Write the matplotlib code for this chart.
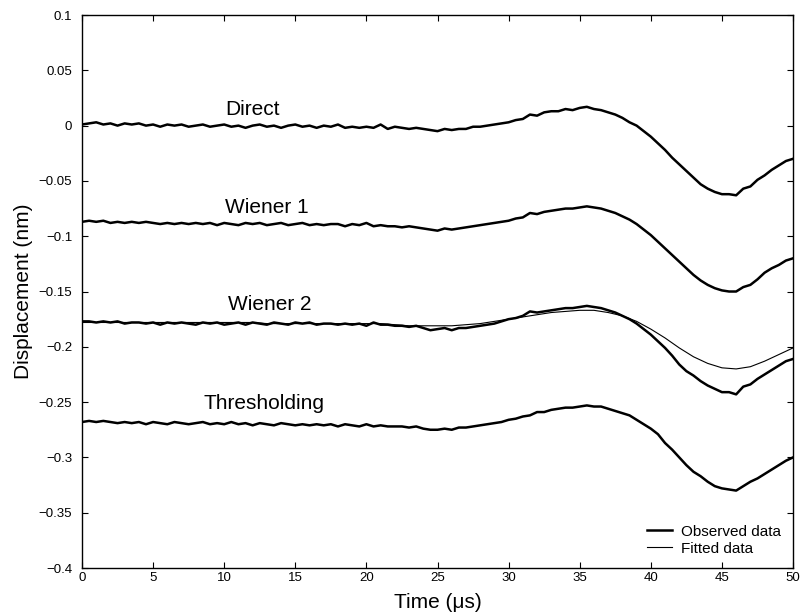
import matplotlib
matplotlib.use("Agg")
import matplotlib.pyplot as plt
import numpy as np

plt.rcParams['font.family'] = ['Liberation Sans', 'DejaVu Sans']

# time axis (microseconds), sampled every 0.5 us for observed traces
t_obs = np.arange(0, 50.5, 0.5)
# fitted trace read every 1 us
t_fit = np.arange(0, 51, 1.0)

direct = [0.001, 0.002, 0.003, 0.001, 0.002, 0.000, 0.002, 0.001, 0.002, 0.000,
          0.001, -0.001, 0.001, 0.000, 0.001, -0.001, 0.000, 0.001, -0.001, 0.000,
          0.001, -0.001, 0.000, -0.002, 0.000, 0.001, -0.001, 0.000, -0.002, 0.000,
          0.001, -0.001, 0.000, -0.002, 0.000, -0.001, 0.001, -0.002, -0.001, -0.002,
          -0.001, -0.002, 0.001, -0.003, -0.001, -0.002, -0.003, -0.002, -0.003, -0.004,
          -0.005, -0.003, -0.004, -0.003, -0.003, -0.001, -0.001, 0.000, 0.001, 0.002,
          0.003, 0.005, 0.006, 0.010, 0.009, 0.012, 0.013, 0.013, 0.015, 0.014,
          0.016, 0.017, 0.015, 0.014, 0.012, 0.010, 0.007, 0.003, 0.000, -0.005,
          -0.010, -0.016, -0.022, -0.029, -0.035, -0.041, -0.047, -0.053, -0.057, -0.060,
          -0.062, -0.062, -0.063, -0.057, -0.055, -0.049, -0.045, -0.040, -0.036, -0.032,
          -0.030]

wiener1 = [-0.087, -0.086, -0.087, -0.086, -0.088, -0.087, -0.088, -0.087, -0.088, -0.087,
           -0.088, -0.089, -0.088, -0.089, -0.088, -0.089, -0.088, -0.089, -0.088, -0.090,
           -0.088, -0.089, -0.090, -0.088, -0.089, -0.088, -0.090, -0.089, -0.088, -0.090,
           -0.089, -0.088, -0.090, -0.089, -0.090, -0.089, -0.089, -0.091, -0.089, -0.090,
           -0.088, -0.091, -0.090, -0.091, -0.091, -0.092, -0.091, -0.092, -0.093, -0.094,
           -0.095, -0.093, -0.094, -0.093, -0.092, -0.091, -0.090, -0.089, -0.088, -0.087,
           -0.086, -0.084, -0.083, -0.079, -0.080, -0.078, -0.077, -0.076, -0.075, -0.075,
           -0.074, -0.073, -0.074, -0.075, -0.077, -0.079, -0.082, -0.085, -0.089, -0.094,
           -0.099, -0.105, -0.111, -0.117, -0.123, -0.129, -0.135, -0.140, -0.144, -0.147,
           -0.149, -0.150, -0.150, -0.146, -0.144, -0.139, -0.133, -0.129, -0.126, -0.122,
           -0.120]

wiener2 = [-0.177, -0.177, -0.178, -0.177, -0.178, -0.177, -0.179, -0.178, -0.178, -0.179,
           -0.178, -0.180, -0.178, -0.179, -0.178, -0.179, -0.180, -0.178, -0.179, -0.178,
           -0.180, -0.179, -0.178, -0.180, -0.178, -0.179, -0.180, -0.178, -0.179, -0.180,
           -0.178, -0.179, -0.178, -0.180, -0.179, -0.179, -0.180, -0.179, -0.180, -0.179,
           -0.181, -0.178, -0.180, -0.180, -0.181, -0.181, -0.182, -0.181, -0.183, -0.185,
           -0.184, -0.183, -0.185, -0.183, -0.183, -0.182, -0.181, -0.180, -0.179, -0.177,
           -0.175, -0.174, -0.172, -0.168, -0.169, -0.168, -0.167, -0.166, -0.165, -0.165,
           -0.164, -0.163, -0.164, -0.165, -0.167, -0.169, -0.172, -0.175, -0.179, -0.184,
           -0.189, -0.195, -0.201, -0.208, -0.216, -0.222, -0.226, -0.231, -0.235, -0.238,
           -0.241, -0.241, -0.243, -0.236, -0.234, -0.229, -0.225, -0.221, -0.217, -0.213,
           -0.211]

wiener2_fit = [-0.178, -0.178, -0.178, -0.178, -0.178, -0.178, -0.178, -0.178, -0.178, -0.178,
               -0.178, -0.178, -0.178, -0.179, -0.179, -0.179, -0.179, -0.179, -0.179, -0.179,
               -0.179, -0.179, -0.180, -0.181, -0.181, -0.181, -0.181, -0.180, -0.179, -0.177,
               -0.175, -0.173, -0.171, -0.169, -0.168, -0.167, -0.167, -0.169, -0.172, -0.177,
               -0.184, -0.192, -0.201, -0.209, -0.215, -0.219, -0.220, -0.218, -0.213, -0.207,
               -0.201]

thresholding = [-0.268, -0.267, -0.268, -0.267, -0.268, -0.269, -0.268, -0.269, -0.268, -0.270,
                -0.268, -0.269, -0.270, -0.268, -0.269, -0.270, -0.269, -0.268, -0.270, -0.269,
                -0.270, -0.268, -0.270, -0.269, -0.271, -0.269, -0.270, -0.271, -0.269, -0.270,
                -0.271, -0.270, -0.271, -0.270, -0.271, -0.270, -0.272, -0.270, -0.271, -0.272,
                -0.270, -0.272, -0.271, -0.272, -0.272, -0.272, -0.273, -0.272, -0.274, -0.275,
                -0.275, -0.274, -0.275, -0.273, -0.273, -0.272, -0.271, -0.270, -0.269, -0.268,
                -0.266, -0.265, -0.263, -0.262, -0.259, -0.259, -0.257, -0.256, -0.255, -0.255,
                -0.254, -0.253, -0.254, -0.254, -0.256, -0.258, -0.260, -0.262, -0.266, -0.270,
                -0.274, -0.279, -0.287, -0.293, -0.300, -0.307, -0.313, -0.317, -0.322, -0.326,
                -0.328, -0.329, -0.330, -0.326, -0.322, -0.319, -0.315, -0.311, -0.307, -0.303,
                -0.300]

curve_names = ['Direct', 'Wiener 1', 'Wiener 2', 'Thresholding']
name_x = [12.0, 13.0, 13.2, 12.8]
name_y = [0.015, -0.074, -0.162, -0.251]

xticks = [0, 5, 10, 15, 20, 25, 30, 35, 40, 45, 50]
yticks = [0.1, 0.05, 0, -0.05, -0.1, -0.15, -0.2, -0.25, -0.3, -0.35, -0.4]
ytick_labels = ['0.1', '0.05', '0', '\u22120.05', '\u22120.1', '\u22120.15', '\u22120.2',
                '\u22120.25', '\u22120.3', '\u22120.35', '\u22120.4']

fig = plt.figure(figsize=(8.07, 6.13), dpi=100)
ax = fig.add_axes([0.1016, 0.0734, 0.8811, 0.9021])

obs_lw = 1.8
fit_lw = 0.8
ax.plot(t_obs, direct, color='black', lw=obs_lw, label='Observed data')
ax.plot(t_obs, wiener1, color='black', lw=obs_lw)
ax.plot(t_obs, wiener2, color='black', lw=obs_lw)
ax.plot(t_obs, thresholding, color='black', lw=obs_lw)
ax.plot(t_fit, wiener2_fit, color='black', lw=fit_lw, label='Fitted data')

for name, x, y in zip(curve_names, name_x, name_y):
    ax.text(x, y, name, fontsize=15, ha='center', va='center')

ax.set_xlim(0, 50)
ax.set_ylim(-0.4, 0.1)
ax.set_xticks(xticks)
ax.set_xticklabels([str(v) for v in xticks])
ax.set_yticks(yticks)
ax.set_yticklabels(ytick_labels)
ax.tick_params(direction='in', top=True, right=True, length=4, width=0.8, labelsize=9.5)
ax.tick_params(axis='x', pad=3)
ax.tick_params(axis='y', pad=7)
for s in ax.spines.values():
    s.set_linewidth(1.0)

ax.set_xlabel('Time (\u03bcs)', fontsize=15)
ax.set_ylabel('Displacement (nm)', fontsize=15)
ax.xaxis.set_label_coords(0.5, -0.045)
ax.yaxis.set_label_coords(-0.069, 0.5)

ax.legend(loc='lower right', frameon=False, fontsize=11, handlelength=1.6,
          handletextpad=0.6, labelspacing=0.2, borderaxespad=0.4)

fig.savefig('out.png', dpi=100)
